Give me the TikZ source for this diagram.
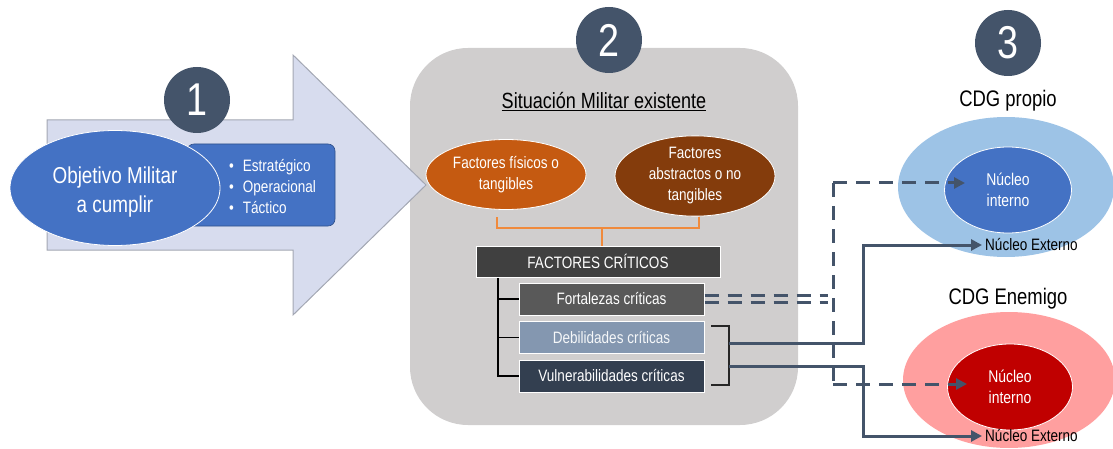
\documentclass[tikz,border=0pt]{standalone}
\usepackage{fontspec}
\setmainfont{Liberation Sans}[FakeStretch=0.82]
\usetikzlibrary{arrows.meta,shapes.geometric}
\definecolor{slate}{HTML}{44546A}
\definecolor{mblue}{HTML}{4472C4}
\definecolor{lav}{HTML}{D7DCEE}
\definecolor{lavb}{HTML}{A3A7B3}
\definecolor{panel}{HTML}{D0CECE}
\definecolor{orng}{HTML}{C55A11}
\definecolor{brwn}{HTML}{843C0C}
\definecolor{brk}{HTML}{F08A3C}
\definecolor{fcrit}{HTML}{404040}
\definecolor{fort}{HTML}{595959}
\definecolor{debil}{HTML}{8497B0}
\definecolor{vuln}{HTML}{333F50}
\definecolor{lblue}{HTML}{9DC3E6}
\definecolor{pink}{HTML}{FF9F9F}
\definecolor{dred}{HTML}{C00000}
\tikzset{
  numcirc/.style={circle,fill=slate,minimum size=66pt,inner sep=0pt,text=white,font=\fontsize{46}{46}\selectfont},
  ell/.style={ellipse,draw=white,line width=0.8pt,inner sep=0pt,text=white,align=center},
  critbox/.style={rectangle,draw=white,line width=1pt,minimum width=185pt,minimum height=32pt,inner sep=0pt,text=white,font=\fontsize{16.5}{16.5}\selectfont},
  conn/.style={draw=slate,line width=3pt},
  dconn/.style={draw=slate,line width=3pt,dash pattern=on 14pt off 9pt},
  tip/.style={-{Triangle[width=11pt,length=11pt]}},
  lbl/.style={font=\fontsize{22.5}{22.5}\selectfont,inner sep=0pt},
  ext/.style={font=\fontsize{16.5}{16.5}\selectfont,inner sep=0pt,anchor=west},
  inner/.style={ell,font=\fontsize{17}{21}\selectfont},
}
\begin{document}
\begin{tikzpicture}[x=1pt,y=-1pt]
\useasboundingbox (0,0) rectangle (1113,449);
% panel 2
\fill[panel,rounded corners=58pt] (410,48) rectangle (798,425);
% big arrow
\draw[fill=lav,draw=lavb,line width=1pt] (47,120) -- (293,120) -- (293,55) -- (426,185) -- (293,315) -- (293,250) -- (47,250) -- cycle;
% section 1
\node[numcirc] (n1) at (197,100) {1};
\node[rectangle,rounded corners=7pt,fill=mblue,draw=mblue!70!black,line width=0.6pt,minimum width=148pt,minimum height=82pt] (levels) at (261,185) {};
\node[anchor=west,text=white,align=left,font=\fontsize{16.5}{21}\selectfont,inner sep=0pt] (lvtxt) at (229,186.5)
  {\textbullet\hspace{9pt}Estratégico\\ \textbullet\hspace{9pt}Operacional\\ \textbullet\hspace{9pt}Táctico};
\node[ell,fill=mblue,minimum width=210pt,minimum height=115pt,font=\fontsize{23}{29}\selectfont] (obj) at (115,188) {};
\node[text=white,align=center,font=\fontsize{23}{29}\selectfont,inner sep=0pt] (objtxt) at (115,192) {Objetivo Militar\\a cumplir};
% section 2
\node[numcirc] (n2) at (609,40) {2};
\node[lbl,font=\fontsize{22}{22}\selectfont] (sit) at (604,102) {\underline{Situación Militar existente}};
\node[ell,fill=orng,minimum width=160pt,minimum height=70pt,font=\fontsize{16.5}{21}\selectfont] (fis) at (506,174.5) {Factores físicos o\\tangibles};
\node[ell,fill=brwn,minimum width=160pt,minimum height=74pt,font=\fontsize{16.5}{21}\selectfont] (abs) at (695,176) {Factores\\abstractos o no\\tangibles};
\coordinate (bl) at (497,217);
\coordinate (br) at (699,217);
\node[critbox,fill=fcrit,minimum width=244pt,minimum height=31pt] (fc) at (598,261.5) {FACTORES CRÍTICOS};
\draw[brk,line width=1.5pt] (bl) -- (bl |- 0,228) -- (br |- 0,228) -- (br);
\draw[brk,line width=1.5pt] (fc.north -| 602,0) -- (602,228);
\node[critbox,fill=fort] (fo) at (611.5,299) {Fortalezas críticas};
\node[critbox,fill=debil,text=white!92!debil] (de) at (611.5,337.5) {Debilidades críticas};
\node[critbox,fill=vuln] (vu) at (611.5,376) {Vulnerabilidades críticas};
\draw[black,line width=1.5pt] (498,278) |- (vu.west);
\draw[black,line width=1.5pt] (498,0 |- fo.west) -- (fo.west);
\draw[black,line width=1.5pt] (498,0 |- de.west) -- (de.west);
\draw[black!85,line width=2.5pt] (711,326) -- (729,326) -- (729,385) -- (711,385);
% section 3
\node[numcirc] (n3) at (1008,43) {3};
\node[lbl] (cdgp) at (1008,101) {CDG propio};
\node[ellipse,fill=lblue,minimum width=216pt,minimum height=140pt,inner sep=0pt] (outp) at (1006,187) {};
\node[inner,fill=mblue,minimum width=127pt,minimum height=86pt] (inp) at (1008,190) {Núcleo\\interno};
\node[ext] (extp) at (985,245) {Núcleo Externo};
\node[lbl] (cdge) at (1008,299) {CDG Enemigo};
\node[ellipse,fill=pink,minimum width=212pt,minimum height=136pt,inner sep=0pt] (oute) at (1009,380) {};
\node[inner,fill=dred,minimum width=125pt,minimum height=86pt] (ine) at (1010,387) {Núcleo\\interno};
\node[ext] (exte) at (985,436) {Núcleo Externo};
% dashed connectors
\coordinate (dtop) at (833,183);
\coordinate (dbot) at (833,384);
\coordinate (ptop) at (965,183);
\coordinate (pbot) at (967,384);
\draw[dconn] ([yshift=-3.5pt]fo.east) -- ([yshift=-3.5pt]fo.east -| 828,0);
\draw[dconn] ([yshift=3.5pt]fo.east) -- ([yshift=3.5pt]fo.east -| 828,0);
\draw[dconn] (dtop) -- (dbot);
\draw[dconn,tip] (dtop) -- (ptop);
\draw[dconn,tip] (dbot) -- (pbot);
% solid connectors
\coordinate (b1) at (729,343);
\coordinate (b2) at (729,366);
\draw[conn,tip] (b1) -- (863,343) |- ([xshift=-3pt]extp.west);
\draw[conn,tip] (b2) -- (863,366) |- ([xshift=-3pt]exte.west);
\end{tikzpicture}
\end{document}
